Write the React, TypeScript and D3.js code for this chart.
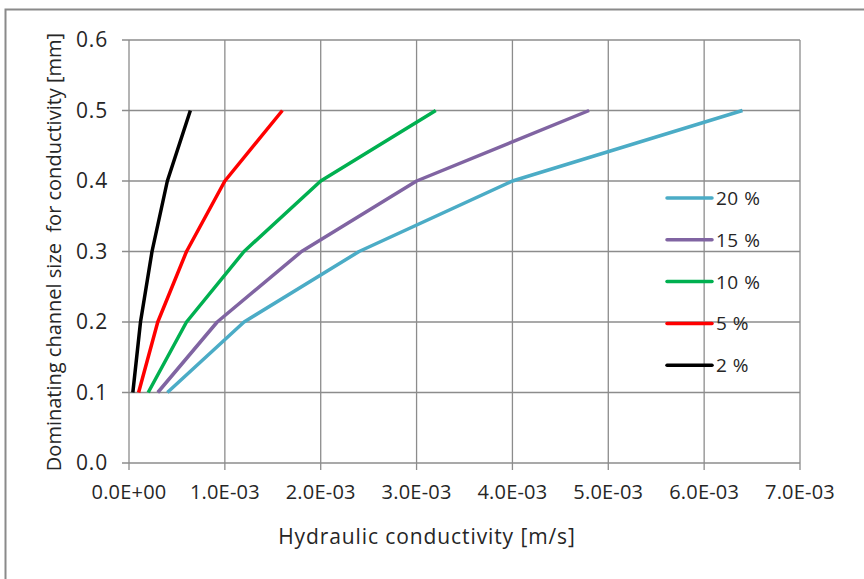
import React, { useRef, useEffect } from "react";
import * as d3 from "d3";

// channel size [mm] shared by all series
const sizes = [0.1, 0.2, 0.3, 0.4, 0.5];
// hydraulic conductivity [m/s] per porosity
const k20 = [0.4e-3, 1.2e-3, 2.4e-3, 4.0e-3, 6.4e-3];
const k15 = [0.3e-3, 0.92e-3, 1.8e-3, 3.0e-3, 4.8e-3];
const k10 = [0.2e-3, 0.6e-3, 1.2e-3, 2.0e-3, 3.2e-3];
const k5 = [0.1e-3, 0.3e-3, 0.6e-3, 1.0e-3, 1.6e-3];
const k2 = [0.04e-3, 0.12e-3, 0.24e-3, 0.4e-3, 0.64e-3];
const seriesNames = ["20 %", "15 %", "10 %", "5 %", "2 %"];
const seriesColors = ["#4BACC6", "#8064A2", "#00B050", "#FF0000", "#000000"];
const xTicks = [0, 1e-3, 2e-3, 3e-3, 4e-3, 5e-3, 6e-3, 7e-3];
const yTicks = [0, 0.1, 0.2, 0.3, 0.4, 0.5, 0.6];

const fmtX = (v: number) => {
  if (v === 0) return "0.0E+00";
  const e = Math.floor(Math.log10(v) + 1e-9);
  const m = v / Math.pow(10, e);
  return `${m.toFixed(1)}E-${String(-e).padStart(2, "0")}`;
};

export default function App() {
  const svgRef = useRef<SVGSVGElement>(null);

  useEffect(() => {
    const svg = d3.select(svgRef.current);
    svg.selectAll("*").remove();
    const font = "'Open Sans', 'Noto Sans', sans-serif";
    const grid = "#8c8c8c";
    const ink = "#262626";

    const x = d3.scaleLinear().domain([0, 7e-3]).range([129, 800]);
    const y = d3.scaleLinear().domain([0, 0.6]).range([463, 40]);

    // outer chart frame (cropped at right/bottom)
    svg.append("path")
      .attr("d", "M5.5,600 L5.5,9.5 L870,9.5")
      .attr("fill", "none")
      .attr("stroke", "#8a8a8a")
      .attr("stroke-width", 2);

    const g = svg.append("g");

    // gridlines
    g.selectAll(".hg").data(yTicks).join("line")
      .attr("x1", 122).attr("x2", 800)
      .attr("y1", (d) => y(d)).attr("y2", (d) => y(d))
      .attr("stroke", grid).attr("stroke-width", 1.3);
    g.selectAll(".vg").data(xTicks).join("line")
      .attr("x1", (d) => x(d)).attr("x2", (d) => x(d))
      .attr("y1", 40).attr("y2", 470)
      .attr("stroke", grid).attr("stroke-width", 1.3);

    // tick labels
    g.selectAll(".yl").data(yTicks).join("text")
      .attr("x", 108).attr("y", (d) => y(d) + 7)
      .attr("text-anchor", "end")
      .attr("font-family", font).attr("font-size", 21).attr("fill", ink)
      .attr("letter-spacing", 0.8)
      .text((d) => d.toFixed(1));
    g.selectAll(".xl").data(xTicks).join("text")
      .attr("x", (d) => x(d)).attr("y", 499)
      .attr("text-anchor", "middle")
      .attr("font-family", font).attr("font-size", 20).attr("fill", ink)
      .attr("letter-spacing", 0.2)
      .text((d) => fmtX(d));

    // axis titles
    svg.append("text")
      .attr("x", 427).attr("y", 544)
      .attr("text-anchor", "middle")
      .attr("font-family", font).attr("font-size", 21).attr("fill", ink)
      .attr("letter-spacing", 0.9)
      .text("Hydraulic conductivity [m/s]");
    svg.append("text")
      .attr("transform", "translate(61,252) rotate(-90)")
      .attr("text-anchor", "middle")
      .attr("font-family", font).attr("font-size", 20).attr("fill", ink)
      .style("white-space", "pre")
      .text("Dominating channel size  for conductivity [mm]");

    // series lines
    const allK = [k20, k15, k10, k5, k2];
    const line = d3.line<[number, number]>()
      .x((d) => x(d[0]))
      .y((d) => y(d[1]));
    allK.forEach((ks, i) => {
      const pts = ks.map((k, j) => [k, sizes[j]] as [number, number]);
      g.append("path")
        .attr("d", line(pts))
        .attr("fill", "none")
        .attr("stroke", seriesColors[i])
        .attr("stroke-width", 3.5)
        .attr("stroke-linejoin", "round");
    });

    // legend
    const lg = svg.append("g");
    seriesNames.forEach((name, i) => {
      const ly = 198 + i * 41.8;
      lg.append("line")
        .attr("x1", 667).attr("x2", 712)
        .attr("y1", ly).attr("y2", ly)
        .attr("stroke", seriesColors[i])
        .attr("stroke-width", 3.5)
        .attr("stroke-linecap", "round");
      lg.append("text")
        .attr("x", 716).attr("y", ly + 7)
        .attr("font-family", font).attr("font-size", 19).attr("fill", ink)
        .attr("letter-spacing", 0.5)
        .text(name);
    });
  }, []);

  return (
    <svg
      ref={svgRef}
      width={864}
      height={579}
      style={{ position: "absolute", left: 0, top: 0, background: "#fff" }}
    />
  );
}
